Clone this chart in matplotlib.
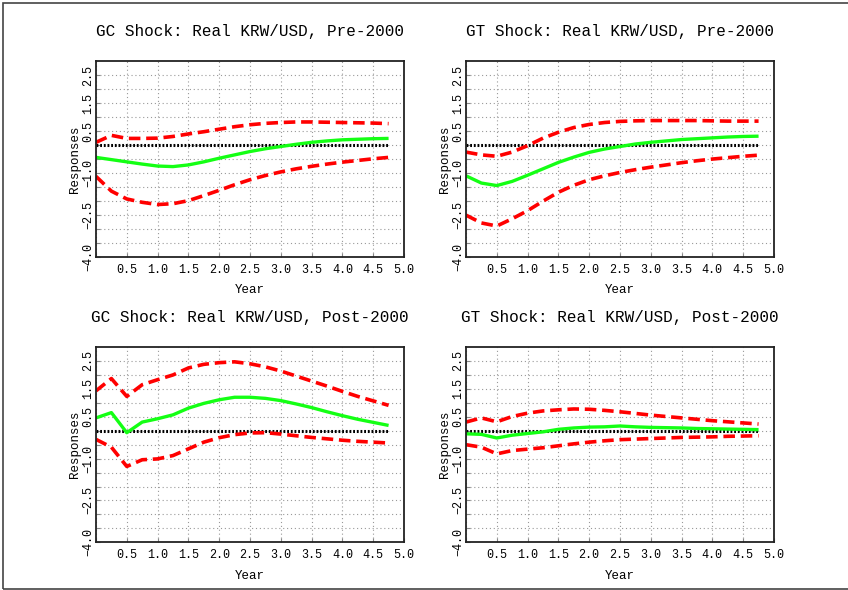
import matplotlib
matplotlib.use("Agg")
import matplotlib.pyplot as plt
import numpy as np

# quarterly horizon, in years
years = np.arange(20) * 0.25

titles = ["GC Shock: Real KRW/USD, Pre-2000",
          "GT Shock: Real KRW/USD, Pre-2000",
          "GC Shock: Real KRW/USD, Post-2000",
          "GT Shock: Real KRW/USD, Post-2000"]

gc_pre = [-0.44, -0.52, -0.60, -0.68, -0.75, -0.77, -0.71, -0.60, -0.47, -0.35,
          -0.23, -0.13, -0.05, 0.03, 0.10, 0.15, 0.19, 0.21, 0.23, 0.24]
gc_pre_hi = [0.10, 0.35, 0.24, 0.24, 0.25, 0.31, 0.40, 0.48, 0.57, 0.66,
             0.73, 0.78, 0.81, 0.83, 0.83, 0.82, 0.81, 0.80, 0.79, 0.77]
gc_pre_lo = [-1.12, -1.65, -1.93, -2.05, -2.13, -2.10, -1.99, -1.81, -1.62, -1.42,
             -1.24, -1.09, -0.96, -0.85, -0.76, -0.68, -0.61, -0.55, -0.49, -0.44]

gt_pre = [-1.10, -1.36, -1.45, -1.30, -1.08, -0.85, -0.62, -0.43, -0.26, -0.14,
          -0.05, 0.04, 0.10, 0.15, 0.20, 0.23, 0.26, 0.29, 0.31, 0.32]
gt_pre_hi = [-0.25, -0.35, -0.40, -0.25, -0.02, 0.25, 0.46, 0.63, 0.74, 0.81,
             0.85, 0.87, 0.88, 0.88, 0.88, 0.88, 0.87, 0.86, 0.86, 0.86]
gt_pre_lo = [-2.51, -2.79, -2.90, -2.64, -2.35, -2.01, -1.69, -1.44, -1.24, -1.10,
             -0.98, -0.88, -0.79, -0.71, -0.63, -0.56, -0.50, -0.45, -0.40, -0.36]

gc_post = [0.46, 0.65, -0.07, 0.31, 0.43, 0.57, 0.81, 0.98, 1.11, 1.20,
           1.20, 1.16, 1.08, 0.96, 0.83, 0.68, 0.54, 0.41, 0.30, 0.19]
gc_post_hi = [1.43, 1.87, 1.23, 1.65, 1.83, 2.00, 2.25, 2.38, 2.44, 2.47,
              2.40, 2.29, 2.14, 1.96, 1.78, 1.60, 1.41, 1.23, 1.07, 0.91]
gc_post_lo = [-0.31, -0.59, -1.28, -1.04, -1.01, -0.89, -0.65, -0.41, -0.25, -0.14,
              -0.08, -0.07, -0.12, -0.18, -0.24, -0.29, -0.34, -0.38, -0.41, -0.44]

gt_post = [-0.11, -0.13, -0.26, -0.16, -0.10, -0.04, 0.05, 0.10, 0.13, 0.14,
           0.17, 0.14, 0.12, 0.11, 0.10, 0.08, 0.07, 0.06, 0.05, 0.04]
gt_post_hi = [0.31, 0.46, 0.32, 0.51, 0.63, 0.71, 0.75, 0.78, 0.77, 0.73,
              0.68, 0.62, 0.56, 0.51, 0.46, 0.41, 0.36, 0.32, 0.28, 0.24]
gt_post_lo = [-0.50, -0.59, -0.83, -0.71, -0.66, -0.61, -0.54, -0.47, -0.41, -0.36,
              -0.32, -0.30, -0.28, -0.26, -0.24, -0.23, -0.22, -0.20, -0.19, -0.18]

responses = [gc_pre, gt_pre, gc_post, gt_post]
uppers = [gc_pre_hi, gt_pre_hi, gc_post_hi, gt_post_hi]
lowers = [gc_pre_lo, gt_pre_lo, gc_post_lo, gt_post_lo]

xticks = [0.5, 1.0, 1.5, 2.0, 2.5, 3.0, 3.5, 4.0, 4.5, 5.0]
yticks = [-4.0, -2.5, -1.0, 0.5, 1.5, 2.5]

mono = "Liberation Mono"

fig = plt.figure(figsize=(8.48, 5.90), dpi=100)

# outer frame
fig.patches.append(plt.Rectangle((3 / 848, 1 / 590), 1.2, 586 / 590, transform=fig.transFigure,
                                 fill=False, edgecolor="#444444", linewidth=1.2))

positions = [(0.1132, 0.5649), (0.5495, 0.5649), (0.1132, 0.0808), (0.5495, 0.0808)]

for i, (l, b) in enumerate(positions):
    ax = fig.add_axes([l, b, 0.3632, 0.331])
    ax.plot(years, np.zeros(len(years)), color="black", linestyle=(0, (0.6, 0.6)), linewidth=2.2)
    ax.plot(years, responses[i], color="#14ff14", linewidth=2.4, solid_capstyle="butt")
    ax.plot(years, uppers[i], color="#ff0000", linewidth=2.6, linestyle=(0, (3.2, 1.6)))
    ax.plot(years, lowers[i], color="#ff0000", linewidth=2.6, linestyle=(0, (3.2, 1.6)))

    ax.set_xlim(0, 5)
    ax.set_ylim(-4, 3)
    ax.set_xticks(xticks)
    ax.set_xticks([0], minor=True)
    ax.set_yticks(yticks)
    ax.set_yticks([-3.5, -3.0, -2.0, -1.5, -0.5, 0.0, 1.0, 2.0], minor=True)
    ax.set_xticklabels(["%.1f" % v for v in xticks], fontsize=8.5, family=mono)
    ax.set_yticklabels(["\u2212%.1f" % -v if v < 0 else "%.1f" % v for v in yticks],
                       fontsize=8.5, family=mono, rotation=90, va="center")
    ax.grid(True, which="both", color="#999999", linestyle=(0, (1, 2.5)), linewidth=0.8)
    ax.tick_params(which="both", direction="in", length=3, color="#888888", width=0.8)
    ax.tick_params(axis="x", pad=5)
    ax.tick_params(axis="y", pad=1)
    for s in ax.spines.values():
        s.set_linewidth(1.3)
        s.set_color("#222222")
    ax.set_title(titles[i], fontsize=11.5, family=mono, pad=18)
    ax.set_xlabel("Year", fontsize=9, family=mono, labelpad=6)
    ax.set_ylabel("Responses", fontsize=9, family=mono, labelpad=1)

fig.savefig("out.png", dpi=100)
